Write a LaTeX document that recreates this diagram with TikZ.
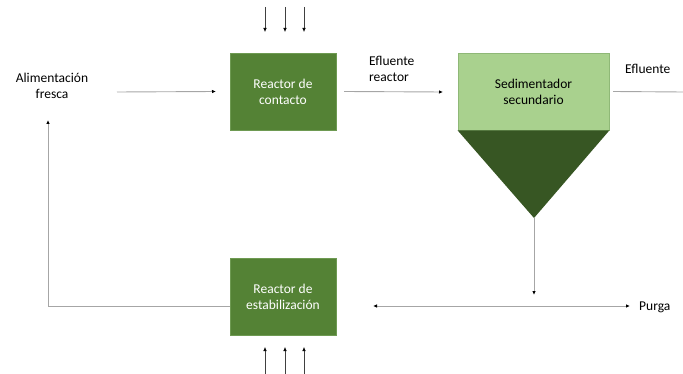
\documentclass[tikz,border=0pt]{standalone}
\usepackage{fontspec}
\setmainfont{Carlito}
\usetikzlibrary{arrows.meta}
\definecolor{boxgreen}{HTML}{548235}
\definecolor{boxedge}{HTML}{6E9A52}
\definecolor{lightgreen}{HTML}{A9D18E}
\definecolor{lightedge}{HTML}{8FB877}
\definecolor{darkgreen}{HTML}{375623}
\definecolor{flowgray}{HTML}{A6A6A6}
\begin{document}
\begin{tikzpicture}[x=1pt,y=-1pt,
  every node/.style={font=\fontsize{13.5}{16}\selectfont},
  reactor/.style={draw=boxedge,line width=0.8pt,fill=boxgreen,text=white,
    minimum width=106,minimum height=77,inner sep=0pt,align=center},
  label/.style={align=center,inner sep=0pt},
  flow/.style={draw=flowgray,line width=0.9pt},
  tip/.style={-{Latex[black,length=4pt,width=3.5pt]}},
  bitip/.style={{Latex[black,length=4pt,width=3.5pt]}-{Latex[black,length=4pt,width=3.5pt]}}]
  \useasboundingbox (0,0) rectangle (683,374);

  % reactors
  \node[reactor] (rc) at (283,91.5) {Reactor de\\contacto};
  \node[reactor] (rs) at (283,296.5) {Reactor de\\estabilización};

  % secondary settler: rectangle on top of a conical hopper
  \node[draw=lightedge,line width=0.8pt,fill=lightgreen,minimum width=151,minimum height=77,
        inner sep=0pt,align=center] (sed) at (533.5,91.5) {Sedimentador\\secundario};
  \fill[darkgreen] (sed.south west) -- (sed.south east) -- (534,218) coordinate (apex) -- cycle;

  % labels
  \node[label] (feed) at (52,86) {Alimentación\\fresca};
  \node[label,align=left,anchor=west] (effr) at (369,69) {Efluente\\reactor};
  \node[label,anchor=west] (eff) at (625,69) {Efluente};
  \node[label,anchor=west] (purga) at (639,307) {Purga};

  % helper coordinates
  \coordinate (feedin) at (117,92);
  \coordinate (sedin) at (443,92);
  \coordinate (effout) at (683,92);
  \coordinate (split) at (534,295);
  \coordinate (purgeL) at (373,306);
  \coordinate (purgeR) at (630,306);
  \coordinate (retcorner) at (48,306);
  \coordinate (rettip) at (48,120);

  % main flows
  \draw[flow,tip] (feedin) -- (rc.west -| 216,0);
  \draw[flow,tip] (rc.east -| 344,0) -- (sedin);
  \draw[flow] (sed.east -| 613,0) -- (effout);
  \draw[flow,tip] (apex) -- (split);
  \draw[flow,bitip] (purgeL) -- (purgeR);
  \draw[flow,tip] (rs.west |- retcorner) -- (retcorner) -- (rettip);

  % air supply to the reactors
  \foreach \x [count=\i] in {265,285,304}{
    \coordinate (ta\i) at (\x,7);
    \coordinate (tb\i) at (\x,32);
    \coordinate (ba\i) at (\x,374);
    \coordinate (bb\i) at (\x,347);
    \draw[draw=black!75,line width=0.6pt,tip] (ta\i) -- (tb\i);
    \draw[draw=black!75,line width=0.6pt,tip] (ba\i) -- (bb\i);
  }
\end{tikzpicture}
\end{document}
